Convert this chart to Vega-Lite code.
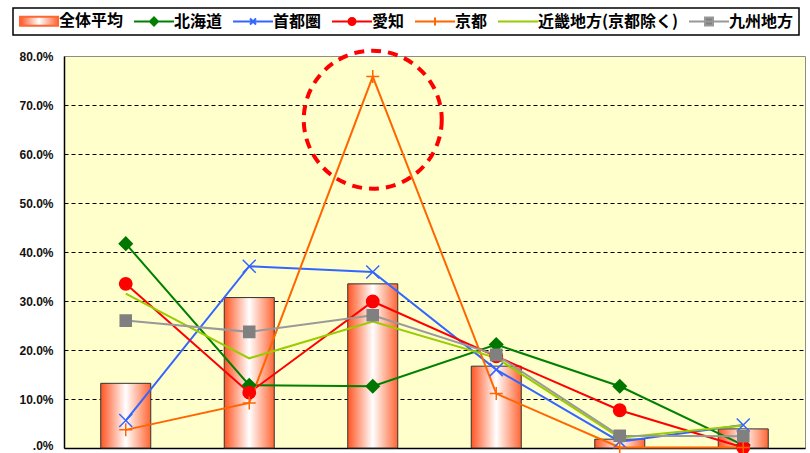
{
  "$schema": "https://vega.github.io/schema/vega-lite/v6.json",
  "width": 741,
  "height": 392,
  "autosize": {"type": "none"},
  "padding": {"left": 64, "top": 56, "right": 5, "bottom": 5},
  "background": "#ffffff",
  "config": {
    "view": {"fill": "#ffffcc", "stroke": "#8c8c8c", "strokeWidth": 1},
    "font": "Noto Sans CJK JP"
  },
  "datasets": {
    "main": [
      {"cat": "A", "series": "全体平均", "value": 13.2},
      {"cat": "B", "series": "全体平均", "value": 30.7},
      {"cat": "C", "series": "全体平均", "value": 33.5},
      {"cat": "D", "series": "全体平均", "value": 16.7},
      {"cat": "E", "series": "全体平均", "value": 1.8},
      {"cat": "F", "series": "全体平均", "value": 3.9},
      {"cat": "A", "series": "北海道", "value": 41.7},
      {"cat": "B", "series": "北海道", "value": 12.8},
      {"cat": "C", "series": "北海道", "value": 12.6},
      {"cat": "D", "series": "北海道", "value": 21.1},
      {"cat": "E", "series": "北海道", "value": 12.6},
      {"cat": "F", "series": "北海道", "value": 0.6},
      {"cat": "A", "series": "首都圏", "value": 5.6},
      {"cat": "B", "series": "首都圏", "value": 37.1},
      {"cat": "C", "series": "首都圏", "value": 35.9},
      {"cat": "D", "series": "首都圏", "value": 16.0},
      {"cat": "E", "series": "首都圏", "value": 1.3},
      {"cat": "F", "series": "首都圏", "value": 4.7},
      {"cat": "A", "series": "愛知", "value": 33.5},
      {"cat": "B", "series": "愛知", "value": 11.3},
      {"cat": "C", "series": "愛知", "value": 29.9},
      {"cat": "D", "series": "愛知", "value": 18.7},
      {"cat": "E", "series": "愛知", "value": 7.7},
      {"cat": "F", "series": "愛知", "value": 0.1},
      {"cat": "A", "series": "京都", "value": 3.7},
      {"cat": "B", "series": "京都", "value": 9.2},
      {"cat": "C", "series": "京都", "value": 75.8},
      {"cat": "D", "series": "京都", "value": 11.1},
      {"cat": "E", "series": "京都", "value": 0.1},
      {"cat": "F", "series": "京都", "value": 0.1},
      {"cat": "A", "series": "近畿地方(京都除く)", "value": 31.5},
      {"cat": "B", "series": "近畿地方(京都除く)", "value": 18.3},
      {"cat": "C", "series": "近畿地方(京都除く)", "value": 25.8},
      {"cat": "D", "series": "近畿地方(京都除く)", "value": 18.4},
      {"cat": "E", "series": "近畿地方(京都除く)", "value": 2.1},
      {"cat": "F", "series": "近畿地方(京都除く)", "value": 4.6},
      {"cat": "A", "series": "九州地方", "value": 26.0},
      {"cat": "B", "series": "九州地方", "value": 23.7},
      {"cat": "C", "series": "九州地方", "value": 27.1},
      {"cat": "D", "series": "九州地方", "value": 19.0},
      {"cat": "E", "series": "九州地方", "value": 2.5},
      {"cat": "F", "series": "九州地方", "value": 2.4}
    ],
    "note": [
      {"cat": "C", "value": 67.0}
    ]
  },
  "encoding": {
    "x": {
      "field": "cat",
      "type": "nominal",
      "scale": {"type": "band", "paddingInner": 0, "paddingOuter": 0},
      "axis": {"title": null, "labels": false, "ticks": false, "domainColor": "#000000", "domainWidth": 1.5, "grid": false}
    },
    "y": {
      "field": "value",
      "type": "quantitative",
      "scale": {"domain": [0, 80], "nice": false, "zero": true},
      "axis": {
        "title": null,
        "values": [0, 10, 20, 30, 40, 50, 60, 70, 80],
        "labelExpr": "datum.value === 0 ? '.0%' : format(datum.value, '.1f') + '%'",
        "labelFont": "Liberation Sans",
        "labelFontSize": 12,
        "labelFontWeight": "bold",
        "labelColor": "#111111",
        "labelPadding": 11,
        "labelOffset": {"condition": {"test": "datum.value === 0", "value": -3}, "value": 0},
        "ticks": false,
        "domainColor": "#000000",
        "domainWidth": 1.5,
        "grid": true,
        "gridColor": "#000000",
        "gridDash": [4, 3],
        "gridWidth": 1,
        "gridOpacity": {"condition": {"test": "datum.value >= 80 || datum.value <= 0", "value": 0}, "value": 1}
      }
    }
  },
  "layer": [
    {
      "data": {"name": "main"},
      "transform": [{"filter": "datum.series === '全体平均'"}],
      "mark": {
        "type": "bar",
        "width": {"band": 0.405},
        "fill": {
          "gradient": "linear",
          "x1": 0, "y1": 0, "x2": 1, "y2": 0,
          "stops": [
            {"offset": 0, "color": "#ff5522"},
            {"offset": 0.5, "color": "#ffffff"},
            {"offset": 1, "color": "#ff6633"}
          ]
        },
        "stroke": "#333333",
        "strokeWidth": 1
      }
    },
    {
      "data": {"name": "main"},
      "transform": [{"filter": "datum.series !== '全体平均'"}],
      "mark": {"type": "line", "strokeWidth": 2},
      "encoding": {
        "color": {
          "field": "series",
          "type": "nominal",
          "sort": null,
          "scale": {
            "domain": ["全体平均", "北海道", "首都圏", "愛知", "京都", "近畿地方(京都除く)", "九州地方"],
            "range": ["#ff6633", "#008000", "#3366ff", "#ff0000", "#ff6600", "#99cc00", "#999999"]
          },
          "legend": {
            "title": null,
            "orient": "none",
            "legendX": -51,
            "legendY": -48,
            "direction": "horizontal",
            "padding": 5,
            "strokeColor": "#000000",
            "fillColor": "#ffffff",
            "columnPadding": 6,
            "symbolOffset": 13,
            "labelOffset": 12,
            "labelFont": "Noto Sans CJK JP",
            "labelFontSize": 16,
            "labelFontWeight": "bold",
            "labelColor": "#000000",
            "labelLimit": 400,
            "symbolSize": 100,
            "symbolStrokeWidth": 2,
            "encode": {
              "legend": {"update": {"strokeWidth": {"value": 1.5}}},
              "symbols": {
                "update": {
                  "shape": {"signal": "datum.value === '全体平均' ? 'M-3.8,-0.9L3.8,-0.9L3.8,0.9L-3.8,0.9Z' : datum.value === '北海道' ? 'M-4,0L4,0M-0.8,0L0,-0.8L0.8,0L0,0.8Z' : datum.value === '首都圏' ? 'M-4,0L4,0M-0.6,-0.6L0.6,0.6M-0.6,0.6L0.6,-0.6' : datum.value === '愛知' ? 'M-4,0L4,0M-0.7,0A0.7,0.7,0,1,0,0.7,0A0.7,0.7,0,1,0,-0.7,0Z' : datum.value === '京都' ? 'M-4,0L4,0M0,-0.8L0,0.8' : datum.value === '九州地方' ? 'M-4,0L4,0M-0.8,-0.8L0.8,-0.8L0.8,0.8L-0.8,0.8Z' : 'M-4,0L4,0'"},
                  "fill": {"signal": "datum.value === '全体平均' ? {gradient: 'linear', x1: 0, y1: 0, x2: 1, y2: 0, stops: [{offset: 0, color: '#ff5522'}, {offset: 0.5, color: '#ffffff'}, {offset: 1, color: '#ff6633'}]} : datum.value === '北海道' ? '#008000' : datum.value === '愛知' ? '#ff0000' : datum.value === '九州地方' ? '#808080' : 'transparent'"},
                  "stroke": {"signal": "datum.value === '全体平均' ? '#333333' : datum.value === '北海道' ? '#008000' : datum.value === '首都圏' ? '#3366ff' : datum.value === '愛知' ? '#ff0000' : datum.value === '京都' ? '#ff6600' : datum.value === '近畿地方(京都除く)' ? '#99cc00' : '#999999'"},
                  "opacity": {"value": 1}
                }
              }
            }
          }
        }
      }
    },
    {
      "data": {"name": "main"},
      "transform": [{"filter": "datum.series !== '全体平均' && datum.series !== '近畿地方(京都除く)'"}],
      "mark": {"type": "point", "size": 169, "opacity": 1, "strokeWidth": 1.5},
      "encoding": {
        "shape": {
          "field": "series",
          "type": "nominal",
          "scale": {
            "domain": ["北海道", "首都圏", "愛知", "京都", "九州地方"],
            "range": [
              "M-1,0L0,-1L1,0L0,1Z",
              "M-1,-1L1,1M-1,1L1,-1",
              "M-0.95,0A0.95,0.95,0,1,0,0.95,0A0.95,0.95,0,1,0,-0.95,0Z",
              "M-1,0L1,0M0,-1L0,1",
              "M-0.85,-0.85L0.85,-0.85L0.85,0.85L-0.85,0.85Z"
            ]
          },
          "legend": null
        },
        "fill": {
          "field": "series",
          "type": "nominal",
          "scale": {
            "domain": ["北海道", "首都圏", "愛知", "京都", "九州地方"],
            "range": ["#007700", "transparent", "#ff0000", "transparent", "#808080"]
          },
          "legend": null
        },
        "stroke": {
          "field": "series",
          "type": "nominal",
          "scale": {
            "domain": ["北海道", "首都圏", "愛知", "京都", "九州地方"],
            "range": ["#007700", "#3366ff", "#ff0000", "#ff6600", "#808080"]
          },
          "legend": null
        }
      }
    },
    {
      "data": {"name": "note"},
      "mark": {
        "type": "point",
        "shape": "circle",
        "size": 19044,
        "filled": false,
        "stroke": "#ff0000",
        "strokeWidth": 4,
        "strokeDash": [10, 7],
        "opacity": 1
      }
    }
  ]
}
